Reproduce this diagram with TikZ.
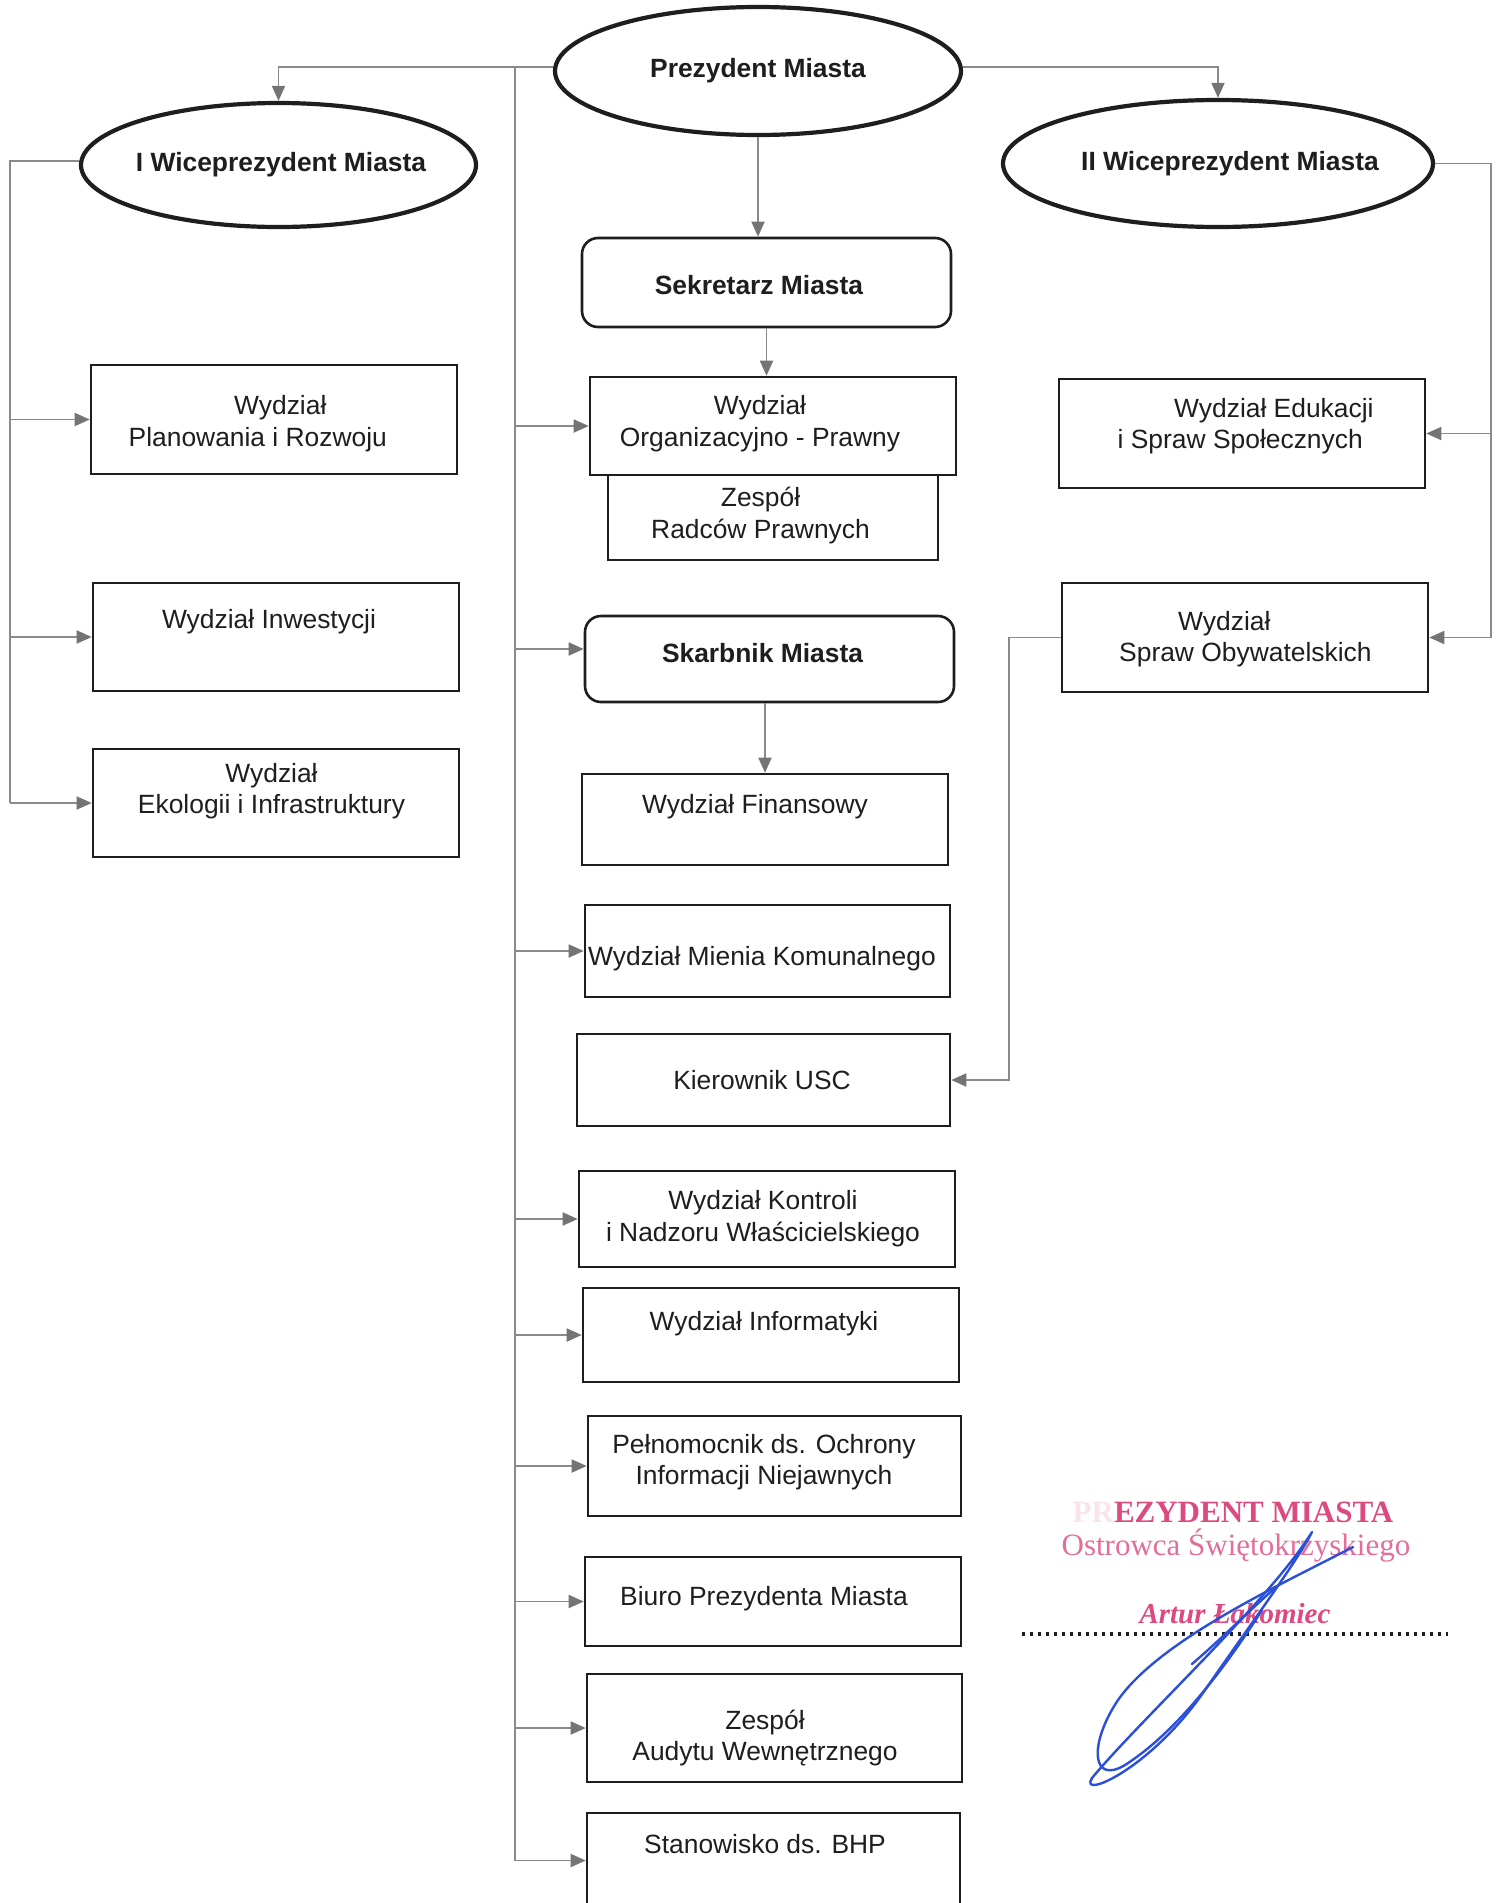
\documentclass[tikz,border=0pt]{standalone}
\usepackage{fontspec}
\setmainfont{Liberation Sans}
\newfontfamily\stampfont{Liberation Serif}
\usetikzlibrary{arrows.meta,shapes.geometric,calc}
\definecolor{ink}{HTML}{1E1E1E}
\definecolor{lnk}{HTML}{8A8A8A}
\definecolor{tipc}{HTML}{747474}
\definecolor{stamp}{HTML}{DC4A80}
\definecolor{sigblue}{HTML}{2B4FD6}
\begin{document}
\begin{tikzpicture}[x=1pt,y=-1pt,
  box/.style={draw=ink,line width=2.6pt,inner sep=0pt,fill=white},
  rbox/.style={box,rounded corners=16pt},
  oval/.style={draw=ink,line width=4.2pt,ellipse,inner sep=0pt,fill=white,
    font=\fontsize{26.4}{31.5}\selectfont\bfseries,text=ink},
  txt/.style={inner sep=0pt,align=center,text=ink,yshift=-3pt,font=\fontsize{26.4}{31.5}\selectfont},
  ltxt/.style={txt,align=left,anchor=west},
  btxt/.style={txt,font=\fontsize{26.4}{31.5}\selectfont\bfseries},
  conn/.style={draw=lnk,line width=1.8pt},
  arr/.style={conn,-{Triangle[length=15pt,width=13pt,color=tipc]}},
  sig/.style={draw=sigblue,line width=2.4pt,line cap=round,line join=round},
  stp/.style={inner sep=0pt,text=stamp}
]
\useasboundingbox[fill=white] (0,0) rectangle (1503,1903);

% ---------- top level ----------
\node[oval,minimum width=406pt,minimum height=128pt] (prez) at (758,71)
  {\makebox[0pt]{Prezydent Miasta}};
\node[oval,minimum width=395pt,minimum height=124pt] (wice1) at (278.5,165)
  {\makebox[0pt]{\hspace*{5pt}I Wiceprezydent Miasta}};
\node[oval,minimum width=430pt,minimum height=127pt] (wice2) at (1218,163.5)
  {\makebox[0pt]{\hspace*{24pt}II Wiceprezydent Miasta}};

% ---------- middle column ----------
\node[rbox,minimum width=369pt,minimum height=89pt] (sek) at (766.5,282.5) {};
\node[btxt] (sek-t) at (759,282) {Sekretarz Miasta};

\node[box,minimum width=330pt,minimum height=85pt] (zesp) at (773,517.5) {};
\node[txt] (zesp-t) at (760.5,512.5) {Zespół\\Radców Prawnych};
\node[box,minimum width=366pt,minimum height=98pt] (org) at (773,426) {};
\node[txt] (org-t) at (760,420.5) {Wydział\\Organizacyjno - Prawny};

\node[rbox,minimum width=369pt,minimum height=86pt] (skarb) at (769.5,659) {};
\node[btxt] (skarb-t) at (762.5,650) {Skarbnik Miasta};

\node[box,minimum width=366pt,minimum height=91pt] (fin) at (765,819.5) {};
\node[txt] (fin-t) at (755,804) {Wydział Finansowy};

\node[box,minimum width=365pt,minimum height=92pt] (mien) at (767.5,951) {};
\node[txt] (mien-t) at (762,956) {Wydział Mienia Komunalnego};

\node[box,minimum width=373pt,minimum height=92pt] (kier) at (763.5,1080) {};
\node[txt] (kier-t) at (762,1077) {Kierownik USC};

\node[box,minimum width=376pt,minimum height=96pt] (kontr) at (767,1219) {};
\node[txt] (kontr-t) at (763,1215.5) {Wydział Kontroli\\i Nadzoru Właścicielskiego};

\node[box,minimum width=376pt,minimum height=94pt] (inf) at (771,1335) {};
\node[txt] (inf-t) at (764,1321) {Wydział Informatyki};

\node[box,minimum width=373pt,minimum height=100pt] (pel) at (774.5,1466) {};
\node[txt] (pel-t) at (764,1459) {Pełnomocnik ds. Ochrony\\Informacji Niejawnych};

\node[box,minimum width=376pt,minimum height=89pt] (biuro) at (773,1601.5) {};
\node[txt] (biuro-t) at (764,1596) {Biuro Prezydenta Miasta};

\node[box,minimum width=375pt,minimum height=108pt] (aud) at (774.5,1728) {};
\node[txt] (aud-t) at (765,1735) {Zespół\\Audytu Wewnętrznego};

\node[box,minimum width=373pt,minimum height=95pt] (bhp) at (773.5,1860.5) {};
\node[txt] (bhp-t) at (765,1841) {Stanowisko ds. BHP};

% ---------- left column ----------
\node[box,minimum width=366pt,minimum height=109pt] (plan) at (274,419.5) {};
\node[ltxt] (plan-t) at (128.5,420.5) {\hspace*{105.5pt}Wydział\\Planowania i Rozwoju};

\node[box,minimum width=366pt,minimum height=108pt] (inw) at (276,637) {};
\node[txt] (inw-t) at (269,619) {Wydział Inwestycji};

\node[box,minimum width=366pt,minimum height=108pt] (eko) at (276,803) {};
\node[txt] (eko-t) at (271.5,788) {Wydział\\Ekologii i Infrastruktury};

% ---------- right column ----------
\node[box,minimum width=366pt,minimum height=109pt] (edu) at (1242,433.5) {};
\node[ltxt] (edu-t) at (1117.5,423) {\hspace*{56.5pt}Wydział Edukacji\\i Spraw Społecznych};

\node[box,minimum width=366pt,minimum height=109pt] (oby) at (1245,637.5) {};
\node[ltxt] (oby-t) at (1119,636) {\hspace*{59pt}Wydział\\Spraw Obywatelskich};

% ---------- connectors ----------
\coordinate (trk) at (515,67);
\coordinate (lx) at (10,165);
\coordinate (rx) at (1491,163.5);
\coordinate (mx) at (1009,637.5);
\coordinate (prezL) at ([yshift=4pt]prez.west);
\coordinate (prezR) at ([yshift=4pt]prez.east);
\coordinate (wiceL) at ([yshift=4pt]wice1.west);
\coordinate (skarbIn) at ([yshift=10pt]skarb.west);

\draw[arr] (prezL) -| (wice1.north);
\draw[arr] (prezR) -| (wice2.north);
\draw[conn] (trk) -- (trk |- bhp.west);
\foreach \n in {org,mien,kontr,inf,pel,biuro,aud,bhp}
  \draw[arr] (trk |- \n.west) -- (\n.west);
\draw[arr] (trk |- skarbIn) -- (skarbIn);
\draw[arr] (prez.south) -- (prez.south |- sek.north);
\draw[arr] (sek.south) -- (sek.south |- org.north);
\draw[arr] (fin.north |- skarb.south) -- (fin.north);

\draw[conn] (wiceL) -- (wiceL -| lx) -- (lx |- eko.west);
\foreach \n in {plan,inw,eko}
  \draw[arr] (lx |- \n.west) -- (\n.west);

\draw[conn] (wice2.east) -- (wice2.east -| rx) -- (rx |- oby.east);
\foreach \n in {edu,oby}
  \draw[arr] (rx |- \n.east) -- (\n.east);

\draw[arr] (oby.west) -- (oby.west -| mx) -- (mx |- kier.east) -- (kier.east);

% ---------- stamp and signature ----------
\node[stp,font=\stampfont\bfseries\fontsize{31}{35}\selectfont] (st1) at (1233,1512)
  {\textcolor{stamp!15}{PR}EZYDENT MIASTA};
\node[stp,text=stamp!80,font=\stampfont\fontsize{31}{35}\selectfont] (st2) at (1236,1546)
  {Ostrowca Świętokrzyskiego};
\node[stp,font=\stampfont\bfseries\itshape\fontsize{29}{33}\selectfont] (st3) at (1235,1614)
  {Artur Łakomiec};
\coordinate (dl) at (1022,1634);
\coordinate (dr) at (1448,1634);
\draw[draw=ink,line width=3.5pt,dash pattern=on 3pt off 5pt] (dl) -- (dr);

\draw[sig] (1312,1532) .. controls (1270,1600) and (1140,1720) .. (1092,1778)
  .. controls (1078,1800) and (1150,1770) .. (1205,1690)
  .. controls (1250,1625) and (1298,1560) .. (1312,1532);
\draw[sig] (1353,1547) .. controls (1280,1585) and (1160,1640) .. (1118,1700)
  .. controls (1088,1745) and (1092,1785) .. (1125,1765)
  .. controls (1180,1730) and (1230,1660) .. (1262,1610);
\draw[sig] (1192,1664) .. controls (1220,1640) and (1250,1610) .. (1275,1588);
\end{tikzpicture}
\end{document}
